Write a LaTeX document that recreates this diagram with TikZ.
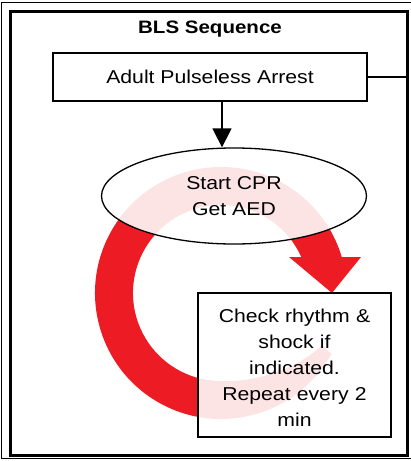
\documentclass[tikz,border=0pt]{standalone}
\usepackage{fontspec}
\setmainfont[FakeStretch=1.14]{Liberation Sans}
\usetikzlibrary{shapes.geometric,arrows.meta}
\definecolor{cycleRed}{RGB}{237,28,36}
\begin{document}
\begin{tikzpicture}[x=1pt,y=-1pt,
    every node/.style={font=\fontsize{18.6}{26}\selectfont, align=center, inner sep=0pt},
    headtext/.style={font=\bfseries\fontsize{18}{22}\selectfont},
    stepbox/.style={draw, rectangle, line width=1.2pt},
    oval/.style={draw, ellipse, line width=1.3pt},
    veil/.style={fill=white, fill opacity=0.88, text opacity=1, draw opacity=1},
    flowarrow/.style={line width=1.5pt, -{Triangle[length=19pt,width=19pt]}}]
  \useasboundingbox (0,0) rectangle (411,461);

  % double frame
  \draw[line width=1.2pt] (1.5,2.5) rectangle (414,458.5);
  \draw[line width=3pt] (10.5,11) coordinate (innerNW) rectangle (407,455) coordinate (innerSE);

  % the big red loop, under the two veiled shapes
  \coordinate (hub) at (221,293);
  \fill[cycleRed] (hub) ++(29:126) arc[start angle=29, end angle=343.4, radius=126]
    -- (361,257) -- (332,293) -- (289,257) -- (301.3,257.1)
    arc[start angle=335.9, end angle=100, radius=88]
    .. controls (245,386) and (295,372) .. (322,345) -- cycle;

  \node[headtext] (head) at (210,28.7) {BLS Sequence};
  \node[stepbox, fill=white, minimum width=314, minimum height=48] (arrest) at (210,77) {Adult Pulseless Arrest};
  \node[oval, veil, minimum width=265, minimum height=96] (cpr) at (234,196) {Start CPR\\Get AED};
  \node[stepbox, veil, text width=193, text height=19.6pt, minimum height=144] (check) at (294.5,365)
    {Check rhythm \&\\shock if\\indicated.\\Repeat every 2\\min};

  \draw[flowarrow] ([xshift=12pt]arrest.south) -- ([xshift=12pt]arrest.south |- cpr.north);
  \draw[line width=1.5pt] (arrest.east) -- (arrest.east -| innerSE);
\end{tikzpicture}
\end{document}
